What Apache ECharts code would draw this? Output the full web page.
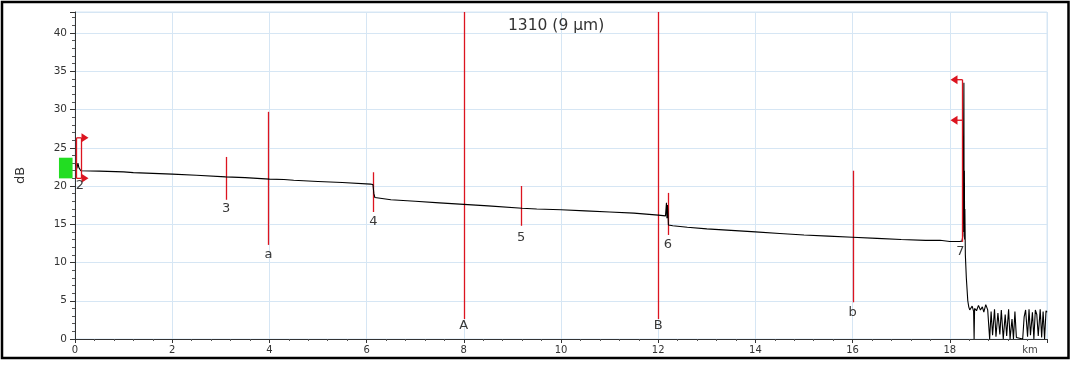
<!DOCTYPE html>
<html>
<head>
<meta charset="utf-8">
<script src="https://cdn.jsdelivr.net/npm/echarts@6/dist/echarts.min.js"></script>
<style>
html,body{margin:0;padding:0;background:#fff;}
#chart{width:1072px;height:374px;}
</style>
</head>
<body>
<div id="chart"></div>
<script>
// ---- data ----
const titleText = '1310 (9 µm)';
const xTicks = [0, 2, 4, 6, 8, 10, 12, 14, 16, 18];
const xUnit = 'km';
const yTicks = [0, 5, 10, 15, 20, 25, 30, 35, 40];

const traceKm = [0.02,0.04,0.06,0.08,0.1,0.12,0.5,1.0,1.2,1.6,2.0,2.5,3.1,3.5,4.0,4.3,4.5,5.0,5.5,6.08,6.13,6.15,6.17,6.2,6.5,7.0,7.5,8.0,8.5,9.2,9.5,10.0,10.5,11.0,11.5,12.0,12.15,12.17,12.18,12.19,12.2,12.21,12.23,12.3,12.6,13.0,13.5,14.0,14.5,15.0,15.5,16.0,16.5,17.0,17.5,17.8,18.0,18.2,18.25,18.27,18.28,18.29,18.295,18.3,18.305,18.31,18.32,18.34,18.37,18.39,18.41,
  18.43,18.46,18.49,18.5,18.51,18.55,18.59,18.63,18.67,18.7,18.74,18.78,18.82,18.85,18.88,18.92,18.95,18.99,19.03,19.06,19.1,19.14,19.17,19.21,19.24,19.28,19.31,19.34,19.37,19.4,19.5,19.53,19.56,19.6,19.63,19.66,19.7,19.73,19.76,19.79,19.82,19.86,19.89,19.92,19.95,19.98,20.0];
const traceDb = [22.9,22.3,23.0,22.4,22.6,22.0,21.95,21.85,21.75,21.65,21.55,21.4,21.2,21.1,20.9,20.85,20.75,20.6,20.45,20.25,20.2,19.0,18.5,18.3,18.2,18.0,17.8,17.6,17.4,17.1,17.0,16.9,16.75,16.6,16.45,16.2,16.1,17.8,15.8,17.5,16.5,14.9,15.0,14.8,14.6,14.4,14.2,14.0,13.8,13.6,13.45,13.3,13.15,13.0,12.9,12.9,12.75,12.75,12.8,13.5,22.5,33.5,14.0,22.0,13.0,17.0,11.0,8.0,5.0,4.2,3.8,
  3.9,4.3,3.6,0.0,4.0,3.7,4.4,3.8,4.2,3.5,4.5,3.8,0.0,3.6,0.5,3.9,0.3,3.4,0.6,3.8,0.0,3.2,0.4,3.9,0.0,2.6,0.0,3.6,0.2,0.0,0.0,2.9,3.8,0.3,3.9,0.5,3.5,0.0,3.8,3.2,0.4,3.9,0.2,3.6,0.0,3.7,3.5];

// event markers (simple vertical bars)
const markerNames  = ['3', 'a', '4', 'A', '5', 'B', '6', 'b'];
const markerKm     = [3.11, 3.98, 6.14, 8.0, 9.18, 12.0, 12.2, 16.0];
const markerTop    = [23.8, 29.7, 21.8, 42.75, 20.0, 42.75, 19.1, 22.0];
const markerBottom = [18.2, 12.3, 16.6, 2.6, 14.8, 2.6, 13.6, 4.8];
const markerLabelY = [17.1, 11.0, 15.3, 1.7, 13.3, 1.7, 12.3, 3.4];

// bracket markers (start / end of fibre)
const bracketNames   = ['2', '7'];
const bracketKm      = [0.12, 18.25];
const bracketLeftKm  = [0.0, 18.25];
const bracketTop     = [26.3, 33.9];
const bracketBottom  = [21.0, 12.7];
const bracketArrow1  = [26.3, 33.9];
const bracketArrow2  = [21.0, 28.6];
const bracketDir     = [1, -1];
const bracketLabelY  = [20.1, 11.4];
const bracketLabelKm = [0.1, 18.22];

// launch box
const launchKm = [-0.33, -0.05];
const launchDb = [21.0, 23.7];

const FONT = 'DejaVu Sans';
const RED = '#dc1420';
const GRIDC = '#d6e6f4';

const chart = echarts.init(document.getElementById('chart'), null, {renderer: 'canvas'});

const markerData = markerKm.map((k, i) => [k, markerTop[i], markerBottom[i], markerLabelY[i], i]);
const bracketData = bracketKm.map((k, i) => [k, bracketTop[i], bracketBottom[i], bracketLabelY[i], i]);

function renderMarker(params, api) {
  const i = api.value(4);
  const x = api.value(0);
  const p0 = api.coord([x, api.value(1)]);
  const p1 = api.coord([x, api.value(2)]);
  const pl = api.coord([x, api.value(3)]);
  return {
    type: 'group',
    children: [
      {type: 'line', shape: {x1: Math.round(p0[0]) + 0.5, y1: p0[1], x2: Math.round(p1[0]) + 0.5, y2: p1[1]}, style: {stroke: RED, lineWidth: 1.3}},
      {type: 'text', style: {text: markerNames[i], x: pl[0], y: pl[1], align: 'center', verticalAlign: 'middle', fill: '#3a3a3a', font: '13px "' + FONT + '"'}}
    ]
  };
}

function arrow(tipX, y, dir) {
  const len = 7, half = 4.5;
  return {type: 'polygon', shape: {points: [[tipX, y], [tipX - dir * len, y - half], [tipX - dir * len, y + half]]}, style: {fill: RED}};
}

function renderBracket(params, api) {
  const i = api.value(4);
  const x = api.value(0);
  const pt = api.coord([x, bracketTop[i]]);
  const pb = api.coord([x, bracketBottom[i]]);
  const a1 = api.coord([x, bracketArrow1[i]]);
  const a2 = api.coord([x, bracketArrow2[i]]);
  const pl = api.coord([bracketLabelKm[i], bracketLabelY[i]]);
  const xl = api.coord([bracketLeftKm[i], 0])[0];
  const dir = bracketDir[i];
  const xr = Math.round(pt[0]) + 0.5;
  const children = [];
  children.push({type: 'line', shape: {x1: xr, y1: pt[1], x2: xr, y2: pb[1]}, style: {stroke: RED, lineWidth: 1.3}});
  if (dir === 1) {
    const xle = Math.round(xl) + 1.5;
    children.push({type: 'line', shape: {x1: xle, y1: pt[1], x2: xle, y2: pb[1]}, style: {stroke: RED, lineWidth: 1.3}});
    children.push({type: 'line', shape: {x1: xle, y1: pt[1], x2: xr, y2: pt[1]}, style: {stroke: RED, lineWidth: 1.3}});
    children.push({type: 'line', shape: {x1: xle, y1: pb[1], x2: xr, y2: pb[1]}, style: {stroke: RED, lineWidth: 1.3}});
    children.push(arrow(xr + 7, a1[1], 1));
    children.push(arrow(xr + 7, a2[1], 1));
  } else {
    children.push({type: 'line', shape: {x1: xr - 6, y1: a1[1], x2: xr, y2: a1[1]}, style: {stroke: RED, lineWidth: 1.3}});
    children.push({type: 'line', shape: {x1: xr - 6, y1: a2[1], x2: xr, y2: a2[1]}, style: {stroke: RED, lineWidth: 1.3}});
    children.push(arrow(xr - 12, a1[1], -1));
    children.push(arrow(xr - 12, a2[1], -1));
  }
  children.push({type: 'text', style: {text: bracketNames[i], x: pl[0], y: pl[1], align: 'center', verticalAlign: 'middle', fill: '#3a3a3a', font: '13px "' + FONT + '"'}});
  return {type: 'group', children: children};
}

function renderLaunch(params, api) {
  const p0 = api.coord([launchKm[0], launchDb[1]]);
  const p1 = api.coord([launchKm[1], launchDb[0]]);
  return {type: 'rect', shape: {x: p0[0], y: p0[1], width: p1[0] - p0[0], height: p1[1] - p0[1]}, style: {fill: '#22dd22'}};
}

const option = {
  animation: false,
  backgroundColor: '#fff',
  title: {
    text: titleText,
    left: 508, top: 18, padding: 0,
    textStyle: {fontFamily: FONT, fontSize: 15.5, fontWeight: 'normal', color: '#333'}
  },
  graphic: [{
    type: 'rect', shape: {x: 2, y: 2, width: 1066.5, height: 356},
    style: {fill: 'none', stroke: '#000', lineWidth: 2.5}, silent: true, z: 100
  }],
  grid: {left: 75, right: 25, top: 12, bottom: 35, show: true, borderColor: GRIDC, borderWidth: 1},
  xAxis: {
    type: 'value', min: 0, max: 20, interval: 2,
    axisLine: {onZero: false, lineStyle: {color: '#333', width: 1}},
    axisTick: {show: true, length: 4, lineStyle: {color: '#333'}},
    minorTick: {show: true, splitNumber: 5, length: 2, lineStyle: {color: '#555'}},
    axisLabel: {
      margin: 6, fontFamily: FONT, fontSize: 10, color: '#333', showMaxLabel: true,
      formatter: v => (xTicks.indexOf(v) >= 0 ? String(v) : (v === 20 ? '{u|' + xUnit + '}' : '')),
      rich: {u: {fontFamily: FONT, fontSize: 10, color: '#444', padding: [0, 34, 0, 0]}}
    },
    splitLine: {show: true, lineStyle: {color: GRIDC, width: 1}}
  },
  yAxis: {
    type: 'value', min: 0, max: 42.75, interval: 5,
    name: 'dB', nameLocation: 'middle', nameGap: 48, nameRotate: 90,
    nameTextStyle: {fontFamily: FONT, fontSize: 13, color: '#333'},
    axisLine: {show: true, onZero: false, lineStyle: {color: '#333', width: 1}},
    axisTick: {show: true, length: 5, lineStyle: {color: '#333'}},
    minorTick: {show: true, splitNumber: 5, length: 3, lineStyle: {color: '#555'}},
    axisLabel: {
      margin: 8, fontFamily: FONT, fontSize: 10.5, color: '#333', showMaxLabel: false,
      formatter: v => (yTicks.indexOf(v) >= 0 ? String(v) : '')
    },
    splitLine: {show: true, lineStyle: {color: GRIDC, width: 1}}
  },
  series: [
    {
      type: 'custom', name: 'launch', renderItem: renderLaunch, clip: false,
      data: [[launchKm[0], launchDb[0]]], encode: {x: 0, y: 1}, z: 3, silent: true
    },
    {
      type: 'line', name: 'trace', showSymbol: false, symbol: 'none', sampling: null,
      data: traceKm.map((k, i) => [k, traceDb[i]]),
      lineStyle: {color: '#000', width: 1.1}, z: 4, silent: true
    },
    {
      type: 'custom', name: 'markers', renderItem: renderMarker, clip: false,
      data: markerData, encode: {x: 0, y: 1}, z: 3, silent: true
    },
    {
      type: 'custom', name: 'brackets', renderItem: renderBracket, clip: false,
      data: bracketData, encode: {x: 0, y: 1}, z: 5, silent: true
    }
  ]
};
chart.setOption(option);
</script>
</body>
</html>
